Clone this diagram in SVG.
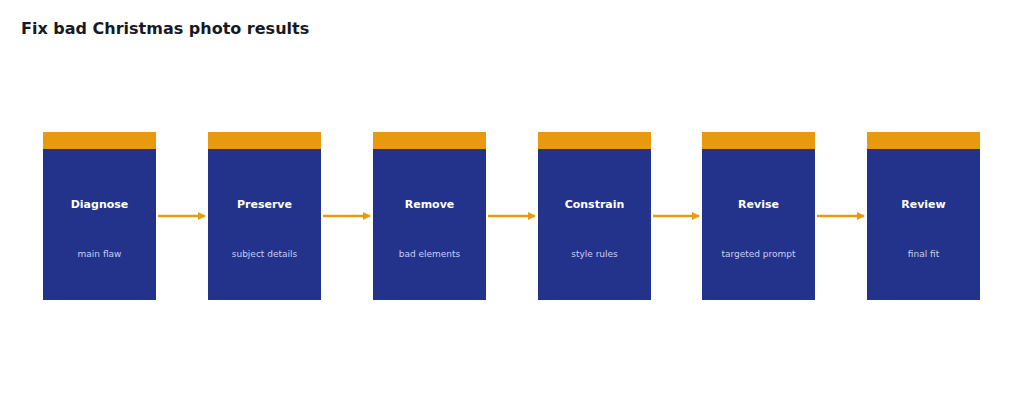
<svg xmlns="http://www.w3.org/2000/svg" width="1024" height="405" viewBox="0 0 1024 405">
<style>
.b{fill:#23328a}.t{fill:#e89a0f}
.h{font:bold 11px "DejaVu Sans",sans-serif;fill:#fff;text-anchor:middle}
.s{font:9px "DejaVu Sans",sans-serif;fill:#c9cff0;text-anchor:middle}
.c line{stroke:#e89a0f;stroke-width:2.5}
</style>
<defs><marker id="a" markerWidth="8" markerHeight="8" refX="7" refY="4" orient="auto" markerUnits="userSpaceOnUse"><path d="M0,0L8,4L0,8z" fill="#e89a0f"/></marker></defs>
<rect width="1024" height="405" fill="#fff"/>
<text x="21" y="34" style="font:bold 16px 'DejaVu Sans',sans-serif;fill:#161a26">Fix bad Christmas photo results</text>
<g id="n1"><rect class="b" x="43" y="132" width="113" height="168"/><rect class="t" x="43" y="132" width="113" height="17"/><text class="h" x="99.5" y="208">Diagnose</text><text class="s" x="99.5" y="257">main flaw</text></g>
<g id="n2"><rect class="b" x="208" y="132" width="113" height="168"/><rect class="t" x="208" y="132" width="113" height="17"/><text class="h" x="264.5" y="208">Preserve</text><text class="s" x="264.5" y="257">subject details</text></g>
<g id="n3"><rect class="b" x="373" y="132" width="113" height="168"/><rect class="t" x="373" y="132" width="113" height="17"/><text class="h" x="429.5" y="208">Remove</text><text class="s" x="429.5" y="257">bad elements</text></g>
<g id="n4"><rect class="b" x="538" y="132" width="113" height="168"/><rect class="t" x="538" y="132" width="113" height="17"/><text class="h" x="594.5" y="208">Constrain</text><text class="s" x="594.5" y="257">style rules</text></g>
<g id="n5"><rect class="b" x="702" y="132" width="113" height="168"/><rect class="t" x="702" y="132" width="113" height="17"/><text class="h" x="758.5" y="208">Revise</text><text class="s" x="758.5" y="257">targeted prompt</text></g>
<g id="n6"><rect class="b" x="867" y="132" width="113" height="168"/><rect class="t" x="867" y="132" width="113" height="17"/><text class="h" x="923.5" y="208">Review</text><text class="s" x="923.5" y="257">final fit</text></g>
<g class="c">
<line x1="158" y1="216" x2="205" y2="216" marker-end="url(#a)"/>
<line x1="323" y1="216" x2="370" y2="216" marker-end="url(#a)"/>
<line x1="488" y1="216" x2="535" y2="216" marker-end="url(#a)"/>
<line x1="653" y1="216" x2="699" y2="216" marker-end="url(#a)"/>
<line x1="817" y1="216" x2="864" y2="216" marker-end="url(#a)"/>
</g>
</svg>
